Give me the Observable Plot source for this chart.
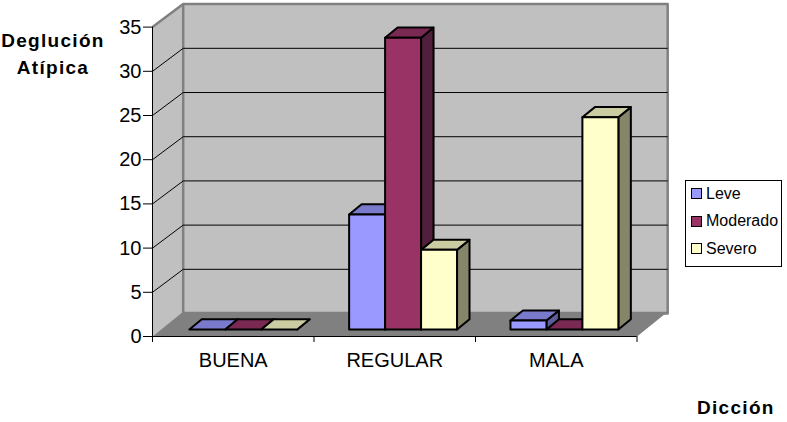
<!DOCTYPE html>
<html>
<head>
<meta charset="utf-8">
<script src="https://cdn.jsdelivr.net/npm/d3@7"></script>
<script src="https://cdn.jsdelivr.net/npm/@observablehq/plot@0.6"></script>
<style>
  html, body { margin: 0; padding: 0; background: #fff; }
  #wrap { position: relative; width: 787px; height: 422px; overflow: hidden; font-family: "Liberation Sans", Arial, sans-serif; color: #000; }
  .ttl { position: absolute; font-weight: bold; font-size: 19px; letter-spacing: 1.3px; line-height: 27px; text-align: center; }
  #legend { position: absolute; left: 685px; top: 180px; width: 95px; height: 85px; border: 1px solid #000; box-sizing: content-box; background: #fff; }
  .li { position: absolute; left: 5px; height: 20px; line-height: 20px; font-size: 16px; white-space: nowrap; }
  .sw { display: inline-block; width: 9px; height: 9px; border: 1.5px solid #000; margin-right: 4px; vertical-align: -0.5px; }
</style>
</head>
<body>
<div id="wrap"></div>
<script>
const categories = ["BUENA", "REGULAR", "MALA"];
const seriesNames = ["Leve", "Moderado", "Severo"];
const leve = [0, 13, 1];
const moderado = [0, 33, 0];
const severo = [0, 9, 24];
const yTicks = [0, 5, 10, 15, 20, 25, 30, 35];
const gridValues = [5, 10, 15, 20, 25, 30];
const frontColors = ["#9999ff", "#993366", "#ffffcc"];
const topColors = ["#7a7acc", "#7a2952", "#cccca3"];
const sideColors = ["#5c5c99", "#4f1f3b", "#85856a"];

// depth of the 3D box and of each bar, in axis units
const depthX = 0.19, depthY = 2.6, floorDepthY = 2.8;
const barW = 0.2227, barDX = 0.0773, barDY = 1.15, baseY = 0.8;
const groupStarts = [0.228, 0.2175, 0.2165];

const poly = (pts, fill, opts = {}) =>
  Plot.line(pts, {x: "0", y: "1", fill, stroke: "none", curve: "linear-closed", ...opts});

const values = [leve, moderado, severo];
const bars = [];
categories.forEach((c, i) => {
  seriesNames.forEach((s, j) => {
    bars.push({i, j, v: values[j][i]});
  });
});
// flat (zero) bars sit underneath their neighbours
bars.sort((a, b) => (a.v === 0 ? 0 : 1) - (b.v === 0 ? 0 : 1));
const stroke = {stroke: "#000", strokeWidth: 2};
const barMarks = bars.flatMap(({i, j, v}) => {
  const x0 = i + groupStarts[i] + j * barW, x1 = x0 + barW;
  const y0 = baseY, y1 = baseY + v;
  const marks = [
    poly([[x1, y0], [x1 + barDX, y0 + barDY], [x1 + barDX, y1 + barDY], [x1, y1]], sideColors[j], stroke),
    poly([[x0, y1], [x1, y1], [x1 + barDX, y1 + barDY], [x0 + barDX, y1 + barDY]], topColors[j], stroke)
  ];
  if (v > 0) marks.push(poly([[x0, y0], [x1, y0], [x1, y1], [x0, y1]], frontColors[j], stroke));
  return marks;
});

const wallEdge = {stroke: "#808080", strokeWidth: 2.5};
const chart = Plot.plot({
  width: 787,
  height: 422,
  marginLeft: 152,
  marginRight: 150.5,
  marginTop: 26.6,
  marginBottom: 86,
  style: {fontFamily: "'Liberation Sans', Arial, sans-serif", background: "transparent", overflow: "visible", color: "#000"},
  x: {type: "linear", domain: [0, 3]},
  y: {type: "linear", domain: [0, 35]},
  marks: [
    // left wall
    poly([[0, 0], [depthX, depthY], [depthX, 35 + depthY], [0, 35]], "#c0c0c0"),
    // back wall
    poly([[depthX, depthY], [3 + depthX, depthY], [3 + depthX, 35 + depthY], [depthX, 35 + depthY]], "#c0c0c0", wallEdge),
    Plot.link([0], {x1: () => 0, y1: () => 35, x2: () => depthX, y2: () => 35 + depthY, ...wallEdge}),
    // grid lines on both walls
    Plot.link(gridValues, {x1: () => 0, y1: d => d, x2: () => depthX, y2: d => d + depthY, stroke: "#000", strokeWidth: 1}),
    Plot.link(gridValues, {x1: () => depthX, y1: d => d + depthY, x2: () => 3 + depthX, y2: d => d + depthY, stroke: "#000", strokeWidth: 1}),
    // floor
    poly([[0, 0], [3, 0], [3 + depthX, floorDepthY], [depthX, floorDepthY]], "#808080"),
    ...barMarks,
    Plot.ruleX([0], {stroke: "#000", strokeWidth: 1}),
    Plot.ruleY([0], {stroke: "#000", strokeWidth: 1}),
    Plot.axisY({ticks: yTicks, tickSize: 9, tickPadding: 2, fontSize: 20, label: null, tickFormat: d => String(d)}),
    Plot.axisX({ticks: [0, 1, 2, 3], tickSize: 6, tickFormat: () => "", label: null}),
    Plot.axisX({ticks: [0.5, 1.5, 2.5], tickSize: 0, tickPadding: 16, fontSize: 20, label: null,
                tickFormat: d => categories[Math.floor(d)]})
  ]
});

const wrap = document.getElementById("wrap");
wrap.appendChild(chart);

const addTitle = (html, css) => {
  const el = document.createElement("div");
  el.className = "ttl";
  el.innerHTML = html;
  el.style.cssText = css;
  wrap.appendChild(el);
};
addTitle("Deglución<br>Atípica", "left:0;top:27px;width:106px;");
addTitle("Dicción", "left:697px;top:394px;");

const legend = document.createElement("div");
legend.id = "legend";
seriesNames.forEach((s, j) => {
  const row = document.createElement("div");
  row.className = "li";
  row.style.top = (2.5 + j * 27.5) + "px";
  const sw = document.createElement("span");
  sw.className = "sw";
  sw.style.background = frontColors[j];
  row.appendChild(sw);
  row.appendChild(document.createTextNode(s));
  legend.appendChild(row);
});
wrap.appendChild(legend);
</script>
</body>
</html>
